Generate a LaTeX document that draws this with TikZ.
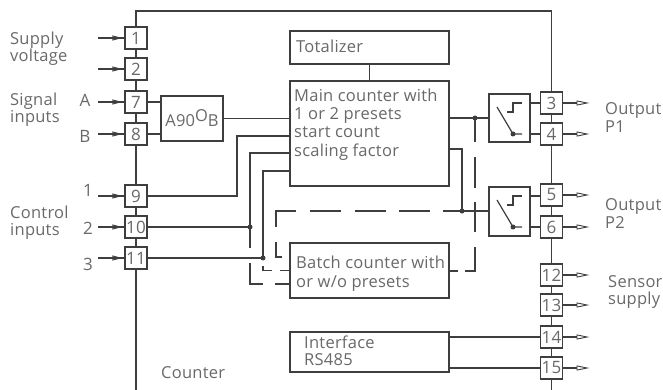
\documentclass[tikz,border=0pt]{standalone}
\usepackage{fontspec}
\setmainfont{Open Sans}[LetterSpace=1.5]
\usetikzlibrary{arrows.meta,decorations.markings}
\definecolor{ink}{RGB}{62,62,62}
\definecolor{txt}{RGB}{105,105,105}
\tikzset{
  wire/.style={draw=ink,line width=1.2pt},
  box/.style={draw=ink,line width=1.3pt,fill=white,rectangle,inner sep=0pt,outer sep=0pt},
  term/.style={box,minimum width=22pt,minimum height=22pt,text=txt,font=\fontsize{17}{17}\selectfont},
  lab/.style={anchor=base west,inner sep=0pt,text=txt,font=\fontsize{16.5}{18}\selectfont},
  mid/.style={anchor=center,inner sep=0pt,text=txt,font=\fontsize{17}{18}\selectfont},
  inarrow/.style={wire,postaction={decorate},decoration={markings,mark=at position 0.9 with {\arrow[line width=0.9pt]{Triangle[open,length=10pt,width=5pt]}}}},
  outarrow/.style={wire,-{Triangle[open,length=13pt,width=5pt,line width=0.9pt]}},
  dot/.style={circle,fill=ink,inner sep=0pt,minimum size=5pt},
}
\newcommand{\lbl}[4]{\node[lab] (#1) at (#2,#3) {#4};}
\begin{document}
\begin{tikzpicture}[x=1pt,y=-1pt]
\useasboundingbox (0,0) rectangle (663,390);
% rails
\coordinate (railLt) at (136,11);
\coordinate (railRt) at (551.5,11);
\coordinate (railLb) at (136,390);
\coordinate (railRb) at (551.5,390);
\draw[wire] (railLb) -- (railLt) -- (railRt) -- (railRb);
% left terminals
\foreach \n/\y in {1/38,2/69,7/102,8/134,9/196,10/227,11/258}
  \node[term] (t\n) at (136,\y) {\n};
% right terminals
\foreach \n/\y in {3/103,4/134,5/195,6/227,12/275,13/305,14/337,15/368}
  \node[term] (t\n) at (551.5,\y) {\n};
% blocks
\node[box,minimum width=159pt,minimum height=33pt] (total) at (369.5,47.5) {};
\node[box,minimum width=159pt,minimum height=105pt] (main) at (369.5,133.5) {};
\node[box,minimum width=159pt,minimum height=55pt] (batch) at (369.5,270.5) {};
\node[box,minimum width=159pt,minimum height=40pt] (iface) at (369.5,352) {};
\node[box,minimum width=62pt,minimum height=45pt,text=txt,font=\fontsize{16.5}{18}\selectfont] (ab) at (192,118.5) {A90\raisebox{5pt}{O}B};
\node[box,minimum width=41pt,minimum height=48pt] (r1) at (509.5,118) {};
\node[box,minimum width=41pt,minimum height=49pt] (r2) at (509.5,211.5) {};
% left inputs
\foreach \n in {1,2,7,8,9,10,11}{
  \coordinate (in\n) at ([xshift=-27pt]t\n.west);
  \draw[inarrow] (in\n) -- (t\n.west);
}
% right outputs
\foreach \n in {3,4,5,6,12,13,14,15}{
  \coordinate (out\n) at ([xshift=27pt]t\n.east);
  \draw[outarrow] (t\n.east) -- (out\n);
}
% solid connections
\draw[wire] (total.south) -- (main.north -| total.south);
\draw[wire] (t7.east) -- (ab.west |- t7.east);
\draw[wire] (t8.east) -- (ab.west |- t8.east);
\draw[wire] (ab.east) -- (main.west |- ab.east);
\coordinate (c9) at (237,136);
\coordinate (c10) at (250,153);
\coordinate (c11) at (263,171);
\draw[wire] (t9.east) -- (c9 |- t9.east) -- (c9) -- (main.west |- c9);
\draw[wire] (t10.east) -- (c10 |- t10.east);
\draw[wire] (c10 |- 0,248) -- (c10) -- (main.west |- c10);
\draw[wire] (t11.east) -- (c11 |- t11.east) -- (c11) -- (main.west |- c11);
\node[dot] (d10) at (c10 |- t10) {};
\node[dot] (d11) at (c11 |- t11) {};
% main right
\coordinate (j1) at (475,118);
\draw[wire] (main.east |- j1) -- (r1.west |- j1);
\node[dot] (d1) at (j1) {};
\coordinate (j2) at (462,211);
\draw[wire] (main.east |- 0,149) -- (j2 |- 0,149) -- (j2);
\draw[wire] (443,211) -- (r2.west |- j2);
\node[dot] (d2) at (j2) {};
% dashed pieces
\foreach \a/\b in {118/142,157/188,202/232}
  \draw[wire] (475,\a) -- (475,\b);
\draw[wire] (475,247) -- (475,271) -- (465,271);
\draw[wire] (458,271) -- (449,271);
\draw[wire] (276,227) -- (276,211) -- (296,211);
\draw[wire] (310,211) -- (341,211);
\draw[wire] (355,211) -- (386,211);
\draw[wire] (399,211) -- (430,211);
\draw[wire] (276,242) -- (276,257) -- (282,257);
\draw[wire] (250,263) -- (250,284) -- (263,284);
\draw[wire] (275,284) -- (290,284);
\draw[wire] (263,266) -- (263,270.5) -- (272,270.5);
\draw[wire] (280,270.5) -- (290,270.5);
% relays
\foreach \r/\o in {r1/0,r2/93}{
  \draw[wire] (\r.east |- 0,103+\o) -- +(11,0);
  \draw[wire] (\r.east |- 0,134+\o) -- +(11,0);
  \draw[wire] (507,112+\o) -- (513,112+\o) -- (513,103+\o) -- (522,103+\o);
  \draw[wire] (497,107+\o) -- (513,134+\o) -- (522,134+\o);
  \node[dot] (dr\r) at (513,134+\o) {};
}
% labels
\lbl{a1}{10}{45}{Supply}
\lbl{a2}{10}{62}{voltage}
\lbl{a3}{10}{106}{Signal}
\lbl{a4}{10}{123}{inputs}
\lbl{a5}{10}{218}{Control}
\lbl{a6}{10}{235}{inputs}
\node[mid] (nA) at (85,100) {A};
\node[mid] (nB) at (85,136) {B};
\node[mid] (n1) at (88,190) {1};
\node[mid] (n2) at (88,228) {2};
\node[mid] (n3) at (88,264) {3};
\lbl{a7}{161}{378}{Counter}
\lbl{b1}{296}{53}{Totalizer}
\lbl{b2}{294}{102}{Main counter with}
\lbl{b3}{294}{120}{1 or 2 presets}
\lbl{b4}{294}{138}{start count}
\lbl{b5}{294}{157}{scaling factor}
\lbl{b6}{296}{268}{Batch counter with}
\lbl{b7}{296}{287}{or w/o presets}
\lbl{b8}{304}{348}{Interface}
\lbl{b9}{304}{365}{RS485}
\lbl{c1}{605}{115}{Output}
\lbl{c2}{605}{133}{P1}
\lbl{c3}{605}{210}{Output}
\lbl{c4}{605}{228}{P2}
\lbl{c5}{608}{287}{Sensor}
\lbl{c6}{608}{304}{supply}
% interface links
\draw[wire] (iface.east |- t14) -- (t14.west);
\draw[wire] (iface.east |- t15) -- (t15.west);
\end{tikzpicture}
\end{document}
